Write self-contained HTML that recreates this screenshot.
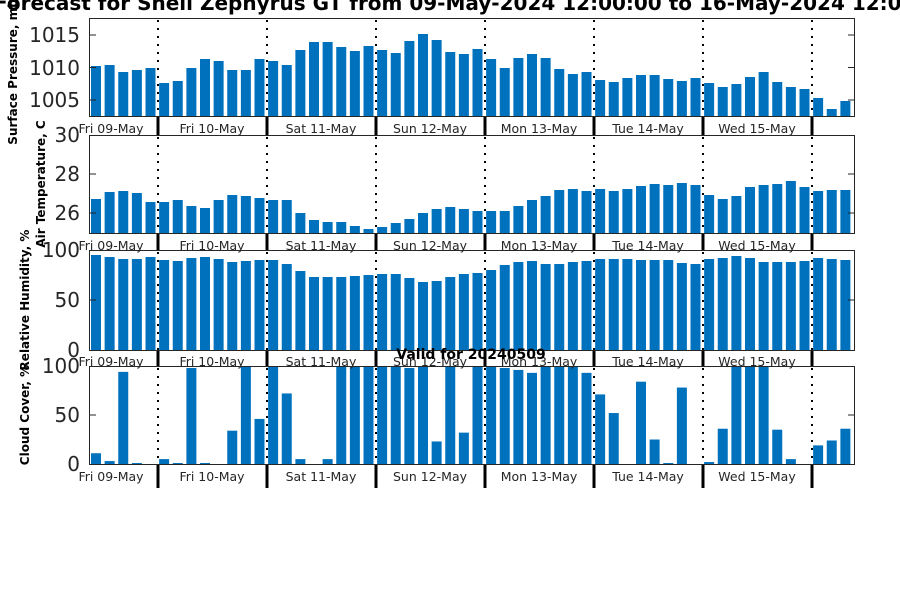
<!DOCTYPE html>
<html><head><meta charset="utf-8"><style>
html,body{margin:0;padding:0;background:#fff;}
svg{display:block;font-family:"DejaVu Sans","Liberation Sans",sans-serif;}
</style></head><body>
<svg id="s" width="900" height="600" viewBox="0 0 900 600" xmlns="http://www.w3.org/2000/svg">
<rect width="900" height="600" fill="#fff"/>
<g id="bars" fill="#0072bd"></g>
<g id="divs"></g>
<g fill="none" stroke="#262626" stroke-width="1">
<rect x="89.5" y="18.5" width="765" height="98"/>
<rect x="89.5" y="135.5" width="765" height="98"/>
<rect x="89.5" y="250.5" width="765" height="100"/>
<rect x="89.5" y="366.5" width="765" height="98"/>
<path d="M89 35h7M89 67.5h7M89 100h7M848 35h7M848 67.5h7M848 100h7
M89 174h7M89 213h7M848 174h7M848 213h7
M89 300h7M848 300h7
M89 415h7M848 415h7"/>
</g>
<g font-size="20" fill="#262626" text-anchor="end">
<text x="80" y="42">1015</text><text x="80" y="75">1010</text><text x="80" y="107">1005</text>
<text x="80" y="142">30</text><text x="80" y="181">28</text><text x="80" y="220">26</text>
<text x="80" y="257">100</text><text x="80" y="307">50</text><text x="80" y="357">0</text>
<text x="80" y="373">100</text><text x="80" y="422">50</text><text x="80" y="471">0</text>
</g>
<g font-size="12.5" fill="#262626" text-anchor="middle">
<text x="111" y="133">Fri 09-May</text><text x="212" y="133">Fri 10-May</text><text x="321" y="133">Sat 11-May</text><text x="430" y="133">Sun 12-May</text><text x="539" y="133">Mon 13-May</text><text x="648" y="133">Tue 14-May</text><text x="757" y="133">Wed 15-May</text>
<text x="111" y="250">Fri 09-May</text><text x="212" y="250">Fri 10-May</text><text x="321" y="250">Sat 11-May</text><text x="430" y="250">Sun 12-May</text><text x="539" y="250">Mon 13-May</text><text x="648" y="250">Tue 14-May</text><text x="757" y="250">Wed 15-May</text>
<text x="111" y="366">Fri 09-May</text><text x="212" y="366">Fri 10-May</text><text x="321" y="366">Sat 11-May</text><text x="430" y="366">Sun 12-May</text><text x="539" y="366">Mon 13-May</text><text x="648" y="366">Tue 14-May</text><text x="757" y="366">Wed 15-May</text>
<text x="111" y="481">Fri 09-May</text><text x="212" y="481">Fri 10-May</text><text x="321" y="481">Sat 11-May</text><text x="430" y="481">Sun 12-May</text><text x="539" y="481">Mon 13-May</text><text x="648" y="481">Tue 14-May</text><text x="757" y="481">Wed 15-May</text>
</g>
<g font-size="12" font-weight="bold" fill="#000" text-anchor="middle">
<text transform="translate(17,72) rotate(-90)">Surface Pressure, mb</text>
<text transform="translate(45,184) rotate(-90)">Air Temperature, C</text>
<text transform="translate(29,300) rotate(-90)">Relative Humidity, %</text>
<text transform="translate(29,415) rotate(-90)">Cloud Cover, %</text>
<text x="471" y="359" font-size="14">Valid for 20240509</text>
</g>
<text x="-6" y="10" font-size="20" font-weight="bold" fill="#000">Forecast for Shell Zephyrus GT from 09-May-2024 12:00:00 to 16-May-2024 12:00:00</text>
</svg>
<script>
var P=[66,65,72,70,68,83,81,68,59,61,70,70,59,61,65,50,42,42,47,51,46,50,53,41,34,40,52,54,49,59,68,58,54,58,69,74,72,80,82,78,75,75,79,81,78,83,87,84,77,72,82,87,89,98,109,101];
var T=[199,192,191,193,202,202,200,206,208,200,195,196,198,200,200,213,220,222,222,226,229,227,223,219,213,209,207,209,211,211,211,206,200,196,190,189,191,189,191,189,186,184,185,183,185,195,199,196,187,185,184,181,187,191,190,190];
var H=[255,257,259,259,257,260,261,258,257,259,262,261,260,260,264,271,277,277,277,276,275,274,274,278,282,281,277,274,273,270,265,262,261,264,264,262,261,259,259,259,260,260,260,263,264,259,258,256,258,262,262,262,261,258,259,260];
var C=[11,3,94,1,0,5,1,98,1,0,34,100,46,100,72,5,0,5,100,100,100,100,100,98,100,23,100,32,100,100,98,96,93,100,100,100,93,71,52,0,84,25,1,78,0,2,36,100,100,100,35,5,0,19,24,36];
var ns="http://www.w3.org/2000/svg",g=document.getElementById('bars'),d=document.getElementById('divs');
function r(x,y,w,h,f,p){var e=document.createElementNS(ns,'rect');e.setAttribute('x',x);e.setAttribute('y',y);e.setAttribute('width',w);e.setAttribute('height',h);if(f)e.setAttribute('fill',f);(p||g).appendChild(e);}
for(var i=0;i<56;i++){var x=91+i*13.625;
r(x,P[i],10,116-P[i]);r(x,T[i],10,233-T[i]);r(x,H[i],10,350-H[i]);
var c=C[i]*0.98;if(c>0)r(x,464-c,10,c);}
var D=[158,267,376,485,594,703,812];
D.forEach(function(x){
[[18,116],[135,233],[250,350],[366,464]].forEach(function(a){
var l=document.createElementNS(ns,'line');l.setAttribute('x1',x);l.setAttribute('x2',x);l.setAttribute('y1',a[0]+2);l.setAttribute('y2',a[1]);l.setAttribute('stroke','#000');l.setAttribute('stroke-width','2');l.setAttribute('stroke-dasharray','2 6');d.appendChild(l);});
r(x-1.5,116,3,19,'#000',d);r(x-1.5,233,3,17,'#000',d);r(x-1.5,350,3,16,'#000',d);r(x-1.5,464,3,24,'#000',d);
});
</script>
</body></html>
